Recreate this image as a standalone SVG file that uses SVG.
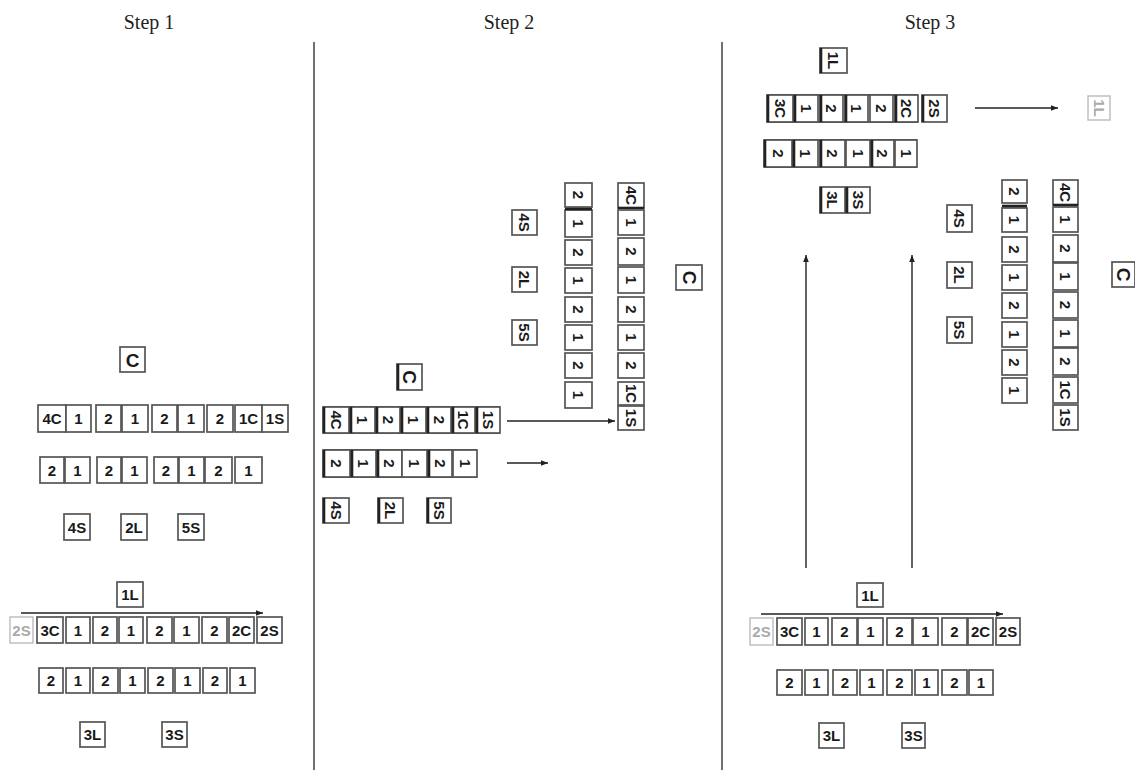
<svg xmlns="http://www.w3.org/2000/svg" width="1135" height="770" viewBox="0 0 1135 770">
<style>
.t{fill:#fff;stroke:#555;stroke-width:1.7}
.g{fill:#fff;stroke:#bbb;stroke-width:1.4}
.l{font-family:"Liberation Sans",Arial,sans-serif;font-weight:bold;font-size:15px;fill:#1a1a1a;text-anchor:middle;dominant-baseline:central}
.lg{font-family:"Liberation Sans",Arial,sans-serif;font-weight:bold;font-size:15px;fill:#aaa;text-anchor:middle;dominant-baseline:central}
.big{font-size:19px}
.h{font-family:"Liberation Serif","Times New Roman",serif;font-size:20px;fill:#222;text-anchor:middle}
.d{stroke:#222;stroke-width:1.3}
.a{stroke:#222;stroke-width:1.4;fill:none;marker-end:url(#ah)}
.rl{stroke:#222;stroke-width:1.4}
.lb{stroke:#222;stroke-width:2.6}
</style>
<defs>
<marker id="ah" viewBox="0 0 10 10" refX="10" refY="5" markerWidth="11" markerHeight="7" markerUnits="userSpaceOnUse" orient="auto"><path d="M0,1 L10,5 L0,9 Z" fill="#222"/></marker>
</defs>
<rect width="1135" height="770" fill="#fff"/>
<g id="titles">
<text class="h" x="149" y="29">Step 1</text>
<text class="h" x="509" y="29">Step 2</text>
<text class="h" x="930" y="29">Step 3</text>
</g>
<g id="dividers">
<line class="d" x1="314" y1="42" x2="314" y2="770"/>
<line class="d" x1="722" y1="42" x2="722" y2="770"/>
</g>
<g id="connectors">
<line class="a" x1="21" y1="613" x2="263" y2="613"/>
<line class="a" x1="507" y1="421" x2="615" y2="421"/>
<line class="a" x1="507" y1="463" x2="548" y2="463"/>
<line class="a" x1="975" y1="108" x2="1058" y2="108"/>
<line class="a" x1="806" y1="568" x2="806" y2="255"/>
<line class="a" x1="912" y1="568" x2="912" y2="255"/>
<line class="a" x1="761" y1="614" x2="1003" y2="614"/>
</g>
<!-- Step 1 -->
<g id="s1-C"><rect class="t" x="120" y="347" width="25" height="25"/><text class="l big" x="132.5" y="360">C</text></g>
<g id="s1-row1">
<rect class="t" x="38" y="405" width="28" height="27"/><text class="l" x="52" y="418.5">4C</text>
<rect class="t" x="66" y="405" width="25" height="27"/><text class="l" x="78.5" y="418.5">1</text>
<rect class="t" x="96" y="405" width="25" height="27"/><text class="l" x="108.5" y="418.5">2</text>
<rect class="t" x="122" y="405" width="26" height="27"/><text class="l" x="135" y="418.5">1</text>
<rect class="t" x="152" y="405" width="25" height="27"/><text class="l" x="164.5" y="418.5">2</text>
<rect class="t" x="178" y="405" width="26" height="27"/><text class="l" x="191" y="418.5">1</text>
<rect class="t" x="207" y="405" width="26" height="27"/><text class="l" x="220" y="418.5">2</text>
<rect class="t" x="235" y="405" width="27" height="27"/><text class="l" x="248.5" y="418.5">1C</text>
<rect class="t" x="262" y="405" width="26" height="27"/><text class="l" x="275" y="418.5">1S</text>
</g>
<g id="s1-row2">
<rect class="t" x="40" y="457" width="24" height="26"/><text class="l" x="52" y="470">2</text>
<rect class="t" x="65" y="457" width="25" height="26"/><text class="l" x="77.5" y="470">1</text>
<rect class="t" x="97" y="457" width="24" height="26"/><text class="l" x="109" y="470">2</text>
<rect class="t" x="122" y="457" width="25" height="26"/><text class="l" x="134.5" y="470">1</text>
<rect class="t" x="154" y="457" width="24" height="26"/><text class="l" x="166" y="470">2</text>
<rect class="t" x="179" y="457" width="25" height="26"/><text class="l" x="191.5" y="470">1</text>
<rect class="t" x="205" y="457" width="27" height="26"/><text class="l" x="218.5" y="470">2</text>
<rect class="t" x="235" y="457" width="27" height="26"/><text class="l" x="248.5" y="470">1</text>
</g>
<g id="s1-4S"><rect class="t" x="64" y="514" width="26" height="26"/><text class="l" x="77" y="527">4S</text></g>
<g id="s1-2L"><rect class="t" x="121" y="514" width="26" height="26"/><text class="l" x="134" y="527">2L</text></g>
<g id="s1-5S"><rect class="t" x="178" y="514" width="26" height="26"/><text class="l" x="191" y="527">5S</text></g>
<g id="s1-1L"><rect class="t" x="117" y="582" width="26" height="25"/><text class="l" x="130" y="594.5">1L</text></g>
<g id="s1-row3">
<rect class="g" x="10" y="617" width="23" height="26"/><text class="lg" x="21.5" y="630">2S</text>
<rect class="t" x="37" y="617" width="26" height="26"/><text class="l" x="50" y="630">3C</text>
<rect class="t" x="66" y="617" width="24" height="26"/><text class="l" x="78" y="630">1</text>
<rect class="t" x="93" y="617" width="24" height="26"/><text class="l" x="105" y="630">2</text>
<rect class="t" x="119" y="617" width="24" height="26"/><text class="l" x="131" y="630">1</text>
<rect class="t" x="147" y="617" width="25" height="26"/><text class="l" x="159.5" y="630">2</text>
<rect class="t" x="174" y="617" width="25" height="26"/><text class="l" x="186.5" y="630">1</text>
<rect class="t" x="202" y="617" width="25" height="26"/><text class="l" x="214.5" y="630">2</text>
<rect class="t" x="229" y="617" width="25" height="26"/><text class="l" x="241.5" y="630">2C</text>
<rect class="t" x="257" y="617" width="25" height="26"/><text class="l" x="269.5" y="630">2S</text>
</g>
<g id="s1-row4">
<rect class="t" x="39" y="668" width="24" height="25"/><text class="l" x="51" y="680.5">2</text>
<rect class="t" x="66" y="668" width="24" height="25"/><text class="l" x="78" y="680.5">1</text>
<rect class="t" x="93" y="668" width="25" height="25"/><text class="l" x="105.5" y="680.5">2</text>
<rect class="t" x="120" y="668" width="25" height="25"/><text class="l" x="132.5" y="680.5">1</text>
<rect class="t" x="148" y="668" width="25" height="25"/><text class="l" x="160.5" y="680.5">2</text>
<rect class="t" x="175" y="668" width="25" height="25"/><text class="l" x="187.5" y="680.5">1</text>
<rect class="t" x="203" y="668" width="24" height="25"/><text class="l" x="215" y="680.5">2</text>
<rect class="t" x="230" y="668" width="25" height="25"/><text class="l" x="242.5" y="680.5">1</text>
</g>
<g id="s1-3L"><rect class="t" x="80" y="722" width="25" height="25"/><text class="l" x="92.5" y="734.5">3L</text></g>
<g id="s1-3S"><rect class="t" x="162" y="722" width="25" height="25"/><text class="l" x="174.5" y="734.5">3S</text></g>
<!-- Step 2 -->
<g id="s2-C"><rect class="t" x="397" y="364" width="25" height="26"/><line class="lb" x1="398" y1="364" x2="398" y2="390"/><text class="l big" x="409.5" y="377" transform="rotate(90 409.5 377)">C</text></g>
<g id="s2-row1">
<line class="rl" x1="323" y1="407" x2="500" y2="407"/><line class="rl" x1="323" y1="433" x2="500" y2="433"/>
<rect class="t" x="323" y="407" width="26" height="26"/><line class="lb" x1="324" y1="407" x2="324" y2="433"/><text class="l" x="336" y="420" transform="rotate(90 336 420)">4C</text>
<rect class="t" x="350" y="407" width="25" height="26"/><line class="lb" x1="351" y1="407" x2="351" y2="433"/><text class="l" x="362.5" y="420" transform="rotate(90 362.5 420)">1</text>
<rect class="t" x="376" y="407" width="24" height="26"/><line class="lb" x1="377" y1="407" x2="377" y2="433"/><text class="l" x="388" y="420" transform="rotate(90 388 420)">2</text>
<rect class="t" x="401" y="407" width="25" height="26"/><line class="lb" x1="402" y1="407" x2="402" y2="433"/><text class="l" x="413.5" y="420" transform="rotate(90 413.5 420)">1</text>
<rect class="t" x="427" y="407" width="24" height="26"/><line class="lb" x1="428" y1="407" x2="428" y2="433"/><text class="l" x="439" y="420" transform="rotate(90 439 420)">2</text>
<rect class="t" x="452" y="407" width="23" height="26"/><line class="lb" x1="453" y1="407" x2="453" y2="433"/><text class="l" x="463.5" y="420" transform="rotate(90 463.5 420)">1C</text>
<rect class="t" x="476" y="407" width="24" height="26"/><line class="lb" x1="477" y1="407" x2="477" y2="433"/><text class="l" x="488" y="420" transform="rotate(90 488 420)">1S</text>
</g>
<g id="s2-row2">
<line class="rl" x1="323" y1="450" x2="477" y2="450"/><line class="rl" x1="323" y1="477" x2="477" y2="477"/>
<rect class="t" x="323" y="450" width="27" height="27"/><line class="lb" x1="324" y1="450" x2="324" y2="477"/><text class="l" x="336.5" y="463.5" transform="rotate(90 336.5 463.5)">2</text>
<rect class="t" x="351" y="450" width="25" height="27"/><line class="lb" x1="352" y1="450" x2="352" y2="477"/><text class="l" x="363.5" y="463.5" transform="rotate(90 363.5 463.5)">1</text>
<rect class="t" x="377" y="450" width="25" height="27"/><line class="lb" x1="378" y1="450" x2="378" y2="477"/><text class="l" x="389.5" y="463.5" transform="rotate(90 389.5 463.5)">2</text>
<rect class="t" x="402" y="450" width="25" height="27"/><text class="l" x="414.5" y="463.5" transform="rotate(90 414.5 463.5)">1</text>
<rect class="t" x="428" y="450" width="24" height="27"/><line class="lb" x1="429" y1="450" x2="429" y2="477"/><text class="l" x="440" y="463.5" transform="rotate(90 440 463.5)">2</text>
<rect class="t" x="453" y="450" width="24" height="27"/><text class="l" x="465" y="463.5" transform="rotate(90 465 463.5)">1</text>
</g>
<g id="s2-4Sa"><rect class="t" x="323" y="498" width="26" height="25"/><line class="lb" x1="324" y1="498" x2="324" y2="523"/><text class="l" x="336" y="510.5" transform="rotate(90 336 510.5)">4S</text></g>
<g id="s2-2La"><rect class="t" x="378" y="498" width="25" height="25"/><line class="lb" x1="379" y1="498" x2="379" y2="523"/><text class="l" x="390.5" y="510.5" transform="rotate(90 390.5 510.5)">2L</text></g>
<g id="s2-5Sa"><rect class="t" x="427" y="498" width="24" height="25"/><line class="lb" x1="428" y1="498" x2="428" y2="523"/><text class="l" x="439" y="510.5" transform="rotate(90 439 510.5)">5S</text></g>
<g id="s2-4S"><rect class="t" x="512" y="210" width="25" height="25"/><text class="l" x="524.5" y="222.5" transform="rotate(90 524.5 222.5)">4S</text></g>
<g id="s2-2L"><rect class="t" x="512" y="267" width="25" height="25"/><text class="l" x="524.5" y="279.5" transform="rotate(90 524.5 279.5)">2L</text></g>
<g id="s2-5S"><rect class="t" x="512" y="320" width="25" height="25"/><text class="l" x="524.5" y="332.5" transform="rotate(90 524.5 332.5)">5S</text></g>
<g id="s2-col1">
<rect class="t" x="565" y="183" width="27" height="24"/><text class="l" x="578.5" y="195" transform="rotate(90 578.5 195)">2</text>
<rect class="t" x="565" y="210" width="27" height="27"/><line class="lb" x1="565" y1="209" x2="592" y2="209"/><text class="l" x="578.5" y="223.5" transform="rotate(90 578.5 223.5)">1</text>
<rect class="t" x="565" y="240" width="27" height="25"/><text class="l" x="578.5" y="252.5" transform="rotate(90 578.5 252.5)">2</text>
<rect class="t" x="565" y="268" width="27" height="25"/><text class="l" x="578.5" y="280.5" transform="rotate(90 578.5 280.5)">1</text>
<rect class="t" x="565" y="297" width="27" height="25"/><text class="l" x="578.5" y="309.5" transform="rotate(90 578.5 309.5)">2</text>
<rect class="t" x="565" y="325" width="27" height="25"/><text class="l" x="578.5" y="337.5" transform="rotate(90 578.5 337.5)">1</text>
<rect class="t" x="565" y="353" width="27" height="25"/><text class="l" x="578.5" y="365.5" transform="rotate(90 578.5 365.5)">2</text>
<rect class="t" x="565" y="382" width="27" height="26"/><text class="l" x="578.5" y="395" transform="rotate(90 578.5 395)">1</text>
</g>
<g id="s2-col2">
<rect class="t" x="618" y="183" width="26" height="25"/><line class="lb" x1="618" y1="208" x2="644" y2="208"/><text class="l" x="631" y="195.5" transform="rotate(90 631 195.5)">4C</text>
<rect class="t" x="618" y="210" width="26" height="25"/><text class="l" x="631" y="222.5" transform="rotate(90 631 222.5)">1</text>
<rect class="t" x="618" y="238" width="26" height="27"/><text class="l" x="631" y="251.5" transform="rotate(90 631 251.5)">2</text>
<rect class="t" x="618" y="267" width="26" height="26"/><text class="l" x="631" y="280" transform="rotate(90 631 280)">1</text>
<rect class="t" x="618" y="297" width="26" height="25"/><text class="l" x="631" y="309.5" transform="rotate(90 631 309.5)">2</text>
<rect class="t" x="618" y="325" width="26" height="25"/><text class="l" x="631" y="337.5" transform="rotate(90 631 337.5)">1</text>
<rect class="t" x="618" y="353" width="26" height="25"/><text class="l" x="631" y="365.5" transform="rotate(90 631 365.5)">2</text>
<rect class="t" x="618" y="382" width="26" height="23"/><text class="l" x="631" y="393.5" transform="rotate(90 631 393.5)">1C</text>
<rect class="t" x="618" y="406" width="26" height="24"/><text class="l" x="631" y="418" transform="rotate(90 631 418)">1S</text>
</g>
<g id="s2-C2"><rect class="t" x="676" y="265" width="26" height="25"/><text class="l big" x="689" y="277.5" transform="rotate(90 689 277.5)">C</text></g>
<!-- Step 3 -->
<g id="s3-1Lt"><rect class="t" x="820" y="48" width="27" height="25"/><line class="lb" x1="821" y1="48" x2="821" y2="73"/><text class="l" x="833.5" y="60.5" transform="rotate(90 833.5 60.5)">1L</text></g>
<g id="s3-row1">
<line class="rl" x1="767" y1="95" x2="918" y2="95"/><line class="rl" x1="767" y1="122" x2="918" y2="122"/>
<rect class="t" x="767" y="95" width="26" height="27"/><line class="lb" x1="768" y1="95" x2="768" y2="122"/><text class="l" x="780" y="108.5" transform="rotate(90 780 108.5)">3C</text>
<rect class="t" x="794" y="95" width="24" height="27"/><line class="lb" x1="795" y1="95" x2="795" y2="122"/><text class="l" x="806" y="108.5" transform="rotate(90 806 108.5)">1</text>
<rect class="t" x="820" y="95" width="23" height="27"/><line class="lb" x1="821" y1="95" x2="821" y2="122"/><text class="l" x="831.5" y="108.5" transform="rotate(90 831.5 108.5)">2</text>
<rect class="t" x="845" y="95" width="23" height="27"/><line class="lb" x1="846" y1="95" x2="846" y2="122"/><text class="l" x="856.5" y="108.5" transform="rotate(90 856.5 108.5)">1</text>
<rect class="t" x="870" y="95" width="23" height="27"/><text class="l" x="881.5" y="108.5" transform="rotate(90 881.5 108.5)">2</text>
<rect class="t" x="895" y="95" width="23" height="27"/><line class="lb" x1="896" y1="95" x2="896" y2="122"/><text class="l" x="906.5" y="108.5" transform="rotate(90 906.5 108.5)">2C</text>
<rect class="t" x="922" y="95" width="25" height="27"/><line class="lb" x1="923" y1="95" x2="923" y2="122"/><text class="l" x="934.5" y="108.5" transform="rotate(90 934.5 108.5)">2S</text>
</g>
<g id="s3-1Lf"><rect class="g" x="1088" y="96" width="22" height="24"/><text class="lg" x="1099" y="108" transform="rotate(90 1099 108)">1L</text></g>
<g id="s3-row2">
<line class="rl" x1="764" y1="140" x2="917" y2="140"/><line class="rl" x1="764" y1="167" x2="917" y2="167"/>
<rect class="t" x="764" y="140" width="28" height="27"/><line class="lb" x1="765" y1="140" x2="765" y2="167"/><text class="l" x="778" y="153.5" transform="rotate(90 778 153.5)">2</text>
<rect class="t" x="793" y="140" width="25" height="27"/><line class="lb" x1="794" y1="140" x2="794" y2="167"/><text class="l" x="805.5" y="153.5" transform="rotate(90 805.5 153.5)">1</text>
<rect class="t" x="820" y="140" width="25" height="27"/><line class="lb" x1="821" y1="140" x2="821" y2="167"/><text class="l" x="832.5" y="153.5" transform="rotate(90 832.5 153.5)">2</text>
<rect class="t" x="846" y="140" width="24" height="27"/><text class="l" x="858" y="153.5" transform="rotate(90 858 153.5)">1</text>
<rect class="t" x="871" y="140" width="23" height="27"/><line class="lb" x1="872" y1="140" x2="872" y2="167"/><text class="l" x="882.5" y="153.5" transform="rotate(90 882.5 153.5)">2</text>
<rect class="t" x="895" y="140" width="22" height="27"/><text class="l" x="906" y="153.5" transform="rotate(90 906 153.5)">1</text>
</g>
<g id="s3-3Lt"><rect class="t" x="820" y="187" width="25" height="26"/><line class="lb" x1="821" y1="187" x2="821" y2="213"/><text class="l" x="832.5" y="200" transform="rotate(90 832.5 200)">3L</text></g>
<g id="s3-3St"><rect class="t" x="846" y="187" width="24" height="26"/><line class="lb" x1="847" y1="187" x2="847" y2="213"/><text class="l" x="858" y="200" transform="rotate(90 858 200)">3S</text></g>
<g id="s3-4S"><rect class="t" x="947" y="205" width="25" height="27"/><text class="l" x="959.5" y="218.5" transform="rotate(90 959.5 218.5)">4S</text></g>
<g id="s3-2L"><rect class="t" x="947" y="262" width="25" height="26"/><text class="l" x="959.5" y="275" transform="rotate(90 959.5 275)">2L</text></g>
<g id="s3-5S"><rect class="t" x="947" y="317" width="25" height="26"/><text class="l" x="959.5" y="330" transform="rotate(90 959.5 330)">5S</text></g>
<g id="s3-col1">
<rect class="t" x="1002" y="180" width="25" height="23"/><text class="l" x="1014.5" y="191.5" transform="rotate(90 1014.5 191.5)">2</text>
<rect class="t" x="1002" y="208" width="25" height="24"/><line class="lb" x1="1002" y1="206" x2="1027" y2="206"/><text class="l" x="1014.5" y="220" transform="rotate(90 1014.5 220)">1</text>
<rect class="t" x="1002" y="237" width="25" height="25"/><text class="l" x="1014.5" y="249.5" transform="rotate(90 1014.5 249.5)">2</text>
<rect class="t" x="1002" y="265" width="25" height="25"/><text class="l" x="1014.5" y="277.5" transform="rotate(90 1014.5 277.5)">1</text>
<rect class="t" x="1002" y="293" width="25" height="25"/><text class="l" x="1014.5" y="305.5" transform="rotate(90 1014.5 305.5)">2</text>
<rect class="t" x="1002" y="322" width="25" height="25"/><text class="l" x="1014.5" y="334.5" transform="rotate(90 1014.5 334.5)">1</text>
<rect class="t" x="1002" y="350" width="25" height="25"/><text class="l" x="1014.5" y="362.5" transform="rotate(90 1014.5 362.5)">2</text>
<rect class="t" x="1002" y="378" width="25" height="25"/><text class="l" x="1014.5" y="390.5" transform="rotate(90 1014.5 390.5)">1</text>
</g>
<g id="s3-col2">
<rect class="t" x="1053" y="180" width="25" height="25"/><line class="lb" x1="1053" y1="205" x2="1078" y2="205"/><text class="l" x="1065.5" y="192.5" transform="rotate(90 1065.5 192.5)">4C</text>
<rect class="t" x="1053" y="207" width="25" height="25"/><text class="l" x="1065.5" y="219.5" transform="rotate(90 1065.5 219.5)">1</text>
<rect class="t" x="1053" y="235" width="25" height="27"/><text class="l" x="1065.5" y="248.5" transform="rotate(90 1065.5 248.5)">2</text>
<rect class="t" x="1053" y="263" width="25" height="27"/><text class="l" x="1065.5" y="276.5" transform="rotate(90 1065.5 276.5)">1</text>
<rect class="t" x="1053" y="292" width="25" height="26"/><text class="l" x="1065.5" y="305" transform="rotate(90 1065.5 305)">2</text>
<rect class="t" x="1053" y="320" width="25" height="27"/><text class="l" x="1065.5" y="333.5" transform="rotate(90 1065.5 333.5)">1</text>
<rect class="t" x="1053" y="348" width="25" height="27"/><text class="l" x="1065.5" y="361.5" transform="rotate(90 1065.5 361.5)">2</text>
<rect class="t" x="1053" y="377" width="25" height="26"/><text class="l" x="1065.5" y="390" transform="rotate(90 1065.5 390)">1C</text>
<rect class="t" x="1053" y="405" width="25" height="25"/><text class="l" x="1065.5" y="417.5" transform="rotate(90 1065.5 417.5)">1S</text>
</g>
<g id="s3-C"><rect class="t" x="1112" y="262" width="23" height="25"/><text class="l big" x="1123.5" y="274.5" transform="rotate(90 1123.5 274.5)">C</text></g>
<g id="s3-1L"><rect class="t" x="857" y="583" width="26" height="24"/><text class="l" x="870" y="595">1L</text></g>
<g id="s3-row3">
<rect class="g" x="750" y="618" width="23" height="27"/><text class="lg" x="761.5" y="631.5">2S</text>
<rect class="t" x="777" y="618" width="25" height="27"/><text class="l" x="789.5" y="631.5">3C</text>
<rect class="t" x="805" y="618" width="23" height="27"/><text class="l" x="816.5" y="631.5">1</text>
<rect class="t" x="832" y="618" width="25" height="27"/><text class="l" x="844.5" y="631.5">2</text>
<rect class="t" x="858" y="618" width="25" height="27"/><text class="l" x="870.5" y="631.5">1</text>
<rect class="t" x="887" y="618" width="25" height="27"/><text class="l" x="899.5" y="631.5">2</text>
<rect class="t" x="913" y="618" width="25" height="27"/><text class="l" x="925.5" y="631.5">1</text>
<rect class="t" x="942" y="618" width="25" height="27"/><text class="l" x="954.5" y="631.5">2</text>
<rect class="t" x="968" y="618" width="25" height="27"/><text class="l" x="980.5" y="631.5">2C</text>
<rect class="t" x="996" y="618" width="24" height="27"/><text class="l" x="1008" y="631.5">2S</text>
</g>
<g id="s3-row4">
<rect class="t" x="777" y="670" width="25" height="25"/><text class="l" x="789.5" y="682.5">2</text>
<rect class="t" x="805" y="670" width="23" height="25"/><text class="l" x="816.5" y="682.5">1</text>
<rect class="t" x="833" y="670" width="24" height="25"/><text class="l" x="845" y="682.5">2</text>
<rect class="t" x="860" y="670" width="23" height="25"/><text class="l" x="871.5" y="682.5">1</text>
<rect class="t" x="887" y="670" width="25" height="25"/><text class="l" x="899.5" y="682.5">2</text>
<rect class="t" x="915" y="670" width="23" height="25"/><text class="l" x="926.5" y="682.5">1</text>
<rect class="t" x="942" y="670" width="25" height="25"/><text class="l" x="954.5" y="682.5">2</text>
<rect class="t" x="969" y="670" width="24" height="25"/><text class="l" x="981" y="682.5">1</text>
</g>
<g id="s3-3L"><rect class="t" x="819" y="723" width="25" height="25"/><text class="l" x="831.5" y="735.5">3L</text></g>
<g id="s3-3S"><rect class="t" x="902" y="723" width="23" height="25"/><text class="l" x="913.5" y="735.5">3S</text></g>
</svg>
